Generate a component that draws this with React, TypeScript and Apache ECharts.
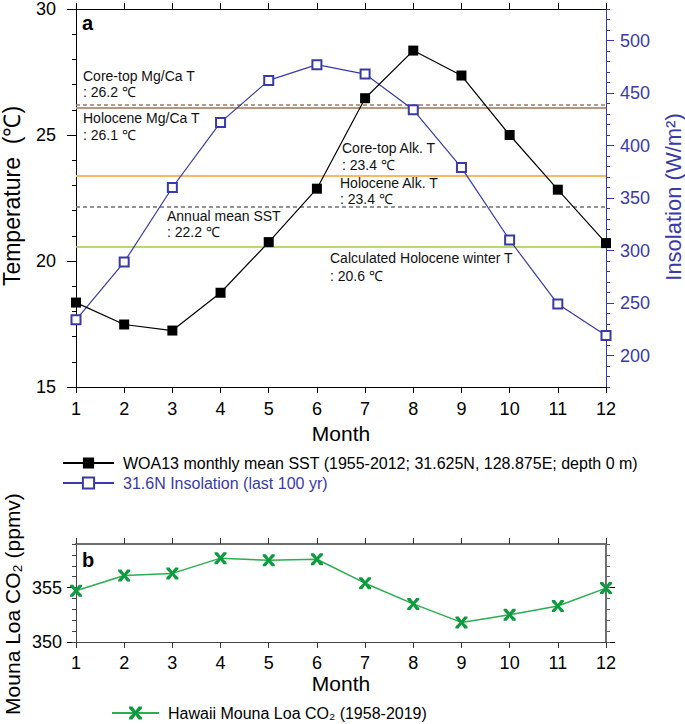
import React, { useEffect, useRef } from "react";
import * as echarts from "echarts";

const months = [1, 2, 3, 4, 5, 6, 7, 8, 9, 10, 11, 12];
const sstValues = [18.35, 17.48, 17.24, 18.74, 20.75, 22.87, 26.46, 28.35, 27.36, 25.0, 22.83, 20.71];
const insolationValues = [234, 289, 360, 422, 462, 477, 468, 434, 379, 310, 249, 219];
const co2Values = [354.7, 356.1, 356.3, 357.7, 357.5, 357.6, 355.4, 353.5, 351.8, 352.5, 353.3, 354.95];

const refLineValues = [26.2, 26.1, 23.4, 22.15, 20.55];
const refLineNames = ["Core-top Mg/Ca T", "Holocene Mg/Ca T", "Core-top Alk. T", "Annual mean SST", "Calculated Holocene winter T"];

const tempTicks = [15, 20, 25, 30];
const insolationTicks = [200, 250, 300, 350, 400, 450, 500];
const co2Ticks = [350, 355];

const SST_NAME = "WOA13 monthly mean SST (1955-2012; 31.625N, 128.875E; depth 0 m)";
const INS_NAME = "31.6N Insolation (last 100 yr)";
const CO2_NAME = "Hawaii Mouna Loa CO\u2082 (1958-2019)";

const FONT = "'Liberation Sans', Arial, Helvetica, sans-serif";
const BLUE = "#3a3aa6";
const XMARK = "path://M0,0 L2.6,0 L5,3.2 L7.4,0 L10,0 L10,1.6 L6.6,5 L10,8.4 L10,10 L7.4,10 L5,6.8 L2.6,10 L0,10 L0,8.4 L3.4,5 L0,1.6 Z";

function pairs(ys: number[]) {
  return months.map((m, i) => [m, ys[i]]);
}

export default function App() {
  const ref = useRef<HTMLDivElement>(null);
  useEffect(() => {
    if (!ref.current) return;
    const chart = echarts.init(ref.current, undefined, { renderer: "svg" });

    const monthAxisBase = (gridIndex: number, position: "bottom" | "top") => ({
      type: "value",
      gridIndex,
      position,
      min: 1,
      max: 12,
      interval: 1,
      splitLine: { show: false },
    });

    const ann = (text: string, x: number, y: number, extra: any = {}) => ({
      type: "text",
      x,
      y,
      silent: true,
      style: {
        text,
        fill: "#111",
        fontSize: 14,
        fontFamily: FONT,
        textAlign: "left",
        textVerticalAlign: "middle",
        ...extra,
      },
    });

    const option: any = {
      animation: false,
      textStyle: { fontFamily: FONT },
      grid: [
        { left: 76, top: 6, width: 530, height: 381 },
        { left: 76, top: 544, width: 530, height: 98 },
      ],
      xAxis: [
        {
          ...monthAxisBase(0, "bottom"),
          name: "Month",
          nameLocation: "middle",
          nameGap: 35,
          nameTextStyle: { fontSize: 21, color: "#000", fontFamily: FONT },
          axisLine: { lineStyle: { color: "#000", width: 1 } },
          axisTick: { show: true, length: 6, lineStyle: { color: "#000" } },
          axisLabel: { fontSize: 18, color: "#000", margin: 13 },
        },
        {
          ...monthAxisBase(0, "top"),
          axisLine: { lineStyle: { color: "#000", width: 1 } },
          axisTick: { show: true, length: 6, lineStyle: { color: "#000" } },
          axisLabel: { show: false },
        },
        {
          ...monthAxisBase(1, "bottom"),
          name: "Month",
          nameLocation: "middle",
          nameGap: 30,
          nameTextStyle: { fontSize: 21, color: "#000", fontFamily: FONT },
          axisLine: { lineStyle: { color: "#444", width: 1 } },
          axisTick: { show: true, length: 6, lineStyle: { color: "#333" } },
          axisLabel: { fontSize: 18, color: "#000", margin: 12 },
        },
        {
          ...monthAxisBase(1, "top"),
          axisLine: { lineStyle: { color: "#707070", width: 2 } },
          axisTick: { show: true, length: 6, lineStyle: { color: "#333" } },
          axisLabel: { show: false },
        },
      ],
      yAxis: [
        {
          type: "value",
          gridIndex: 0,
          position: "left",
          min: 15,
          max: 30,
          interval: 5,
          splitLine: { show: false },
          axisLine: { show: true, lineStyle: { color: "#000", width: 1 } },
          axisTick: { show: true, length: 9, lineStyle: { color: "#000" } },
          minorTick: { show: true, splitNumber: 5, length: 4, lineStyle: { color: "#000" } },
          axisLabel: { fontSize: 18, color: "#000", margin: 20, customValues: tempTicks },
        },
        {
          type: "value",
          gridIndex: 0,
          position: "right",
          min: 170,
          max: 530,
          interval: 10,
          splitLine: { show: false },
          axisLine: { show: true, lineStyle: { color: BLUE, width: 1 } },
          axisTick: { show: true, length: 8, lineStyle: { color: BLUE }, customValues: insolationTicks },
          axisLabel: { fontSize: 18, color: BLUE, margin: 14, customValues: insolationTicks },
        },
        {
          type: "value",
          gridIndex: 0,
          position: "right",
          min: 170,
          max: 530,
          interval: 10,
          splitLine: { show: false },
          axisLine: { show: false },
          axisTick: { show: true, length: 4, lineStyle: { color: BLUE } },
          axisLabel: { show: false },
        },
        {
          type: "value",
          gridIndex: 1,
          position: "left",
          min: 350,
          max: 359,
          interval: 1,
          splitLine: { show: false },
          axisLine: { show: true, lineStyle: { color: "#444", width: 1 } },
          axisTick: { show: true, length: 9, lineStyle: { color: "#000" }, customValues: co2Ticks },
          axisLabel: { fontSize: 18, color: "#000", margin: 14, customValues: co2Ticks },
        },
        {
          type: "value",
          gridIndex: 1,
          position: "left",
          min: 350,
          max: 359,
          interval: 1,
          splitLine: { show: false },
          axisLine: { show: false },
          axisTick: { show: true, length: 4, lineStyle: { color: "#444" } },
          axisLabel: { show: false },
        },
        {
          type: "value",
          gridIndex: 1,
          position: "right",
          min: 350,
          max: 359,
          interval: 1,
          splitLine: { show: false },
          axisLine: { show: true, lineStyle: { color: "#707070", width: 2 } },
          axisTick: { show: true, length: 9, lineStyle: { color: "#000" }, customValues: co2Ticks },
          axisLabel: { show: false },
        },
        {
          type: "value",
          gridIndex: 1,
          position: "right",
          min: 350,
          max: 359,
          interval: 1,
          splitLine: { show: false },
          axisLine: { show: false },
          axisTick: { show: true, length: 4, lineStyle: { color: "#666" } },
          axisLabel: { show: false },
        },
      ],
      legend: [
        {
          orient: "vertical",
          left: 57,
          top: 450,
          itemWidth: 51,
          itemHeight: 14,
          itemGap: 4,
          selectedMode: false,
          textStyle: { fontSize: 16, color: "#000", padding: [0, 0, 0, 4] },
          data: [
            { name: SST_NAME, textStyle: { color: "#000" } },
            { name: INS_NAME, textStyle: { color: BLUE } },
          ],
        },
        {
          orient: "vertical",
          left: 106,
          top: 700,
          itemWidth: 47,
          itemHeight: 16,
          selectedMode: false,
          textStyle: { fontSize: 16, color: "#000", padding: [0, 0, 0, 4] },
          data: [{ name: CO2_NAME }],
        },
      ],
      series: [
        {
          name: SST_NAME,
          type: "line",
          xAxisIndex: 0,
          yAxisIndex: 0,
          data: pairs(sstValues),
          symbol: "rect",
          symbolSize: 10,
          z: 4,
          lineStyle: { color: "#000", width: 1.2 },
          itemStyle: { color: "#000" },
          markLine: {
            silent: true,
            symbol: ["none", "none"],
            label: { show: false },
            z: 1,
            data: [
              { name: refLineNames[0], yAxis: refLineValues[0], lineStyle: { color: "#9c7c64", width: 1.5, type: [4, 3] } },
              { name: refLineNames[1], yAxis: refLineValues[1], lineStyle: { color: "#b8957c", width: 2, type: "solid" } },
              { name: refLineNames[2], yAxis: refLineValues[2], lineStyle: { color: "#f9b863", width: 2, type: "solid" } },
              { name: refLineNames[3], yAxis: refLineValues[3], lineStyle: { color: "#707070", width: 1.5, type: [4, 3] } },
              { name: refLineNames[4], yAxis: refLineValues[4], lineStyle: { color: "#9fcf3a", width: 1.5, type: "solid" } },
            ],
          },
        },
        {
          name: INS_NAME,
          type: "line",
          xAxisIndex: 0,
          yAxisIndex: 1,
          data: pairs(insolationValues),
          symbol: "emptyRect",
          symbolSize: 9,
          z: 3,
          lineStyle: { color: BLUE, width: 1.2 },
          itemStyle: { color: BLUE, borderWidth: 1.3 },
        },
        {
          name: CO2_NAME,
          type: "line",
          xAxisIndex: 2,
          yAxisIndex: 3,
          data: pairs(co2Values),
          symbol: XMARK,
          symbolSize: 12,
          lineStyle: { color: "#2aae50", width: 1.5 },
          itemStyle: { color: "#0e9a3e" },
        },
      ],
      graphic: [
        ann("a", 82, 23, { fontSize: 20, fontWeight: "bold", fill: "#000" }),
        ann("b", 82, 560, { fontSize: 20, fontWeight: "bold", fill: "#000" }),
        ann("Core-top Mg/Ca T", 83, 76),
        ann(": 26.2 \u2103", 83, 92),
        ann("Holocene Mg/Ca T", 83, 118),
        ann(": 26.1 \u2103", 83, 135),
        ann("Annual mean SST", 167, 216),
        ann(": 22.2 \u2103", 167, 232),
        ann("Core-top Alk. T", 342, 148),
        ann(": 23.4 \u2103", 342, 165),
        ann("Holocene Alk. T", 340, 183),
        ann(": 23.4 \u2103", 340, 199),
        ann("Calculated Holocene winter T", 330, 258),
        ann(": 20.6 \u2103", 330, 276),
        {
          type: "text",
          x: 12,
          y: 196,
          rotation: Math.PI / 2,
          silent: true,
          style: { text: "Temperature  (\u2103)", fill: "#000", fontSize: 23, fontFamily: FONT, textAlign: "center", textVerticalAlign: "middle" },
        },
        {
          type: "text",
          x: 673,
          y: 197,
          rotation: Math.PI / 2,
          silent: true,
          style: { text: "Insolation (W/m\u00b2)", fill: BLUE, fontSize: 22, fontFamily: FONT, textAlign: "center", textVerticalAlign: "middle" },
        },
        {
          type: "text",
          x: 12,
          y: 604,
          rotation: Math.PI / 2,
          silent: true,
          style: { text: "Mouna Loa CO\u2082 (ppmv)", fill: "#000", fontSize: 21, fontFamily: FONT, textAlign: "center", textVerticalAlign: "middle" },
        },
      ],
    };

    chart.setOption(option);
    return () => chart.dispose();
  }, []);

  return (
    <div
      ref={ref}
      style={{ position: "fixed", left: 0, top: 0, width: 685, height: 724, background: "#fff" }}
    />
  );
}
